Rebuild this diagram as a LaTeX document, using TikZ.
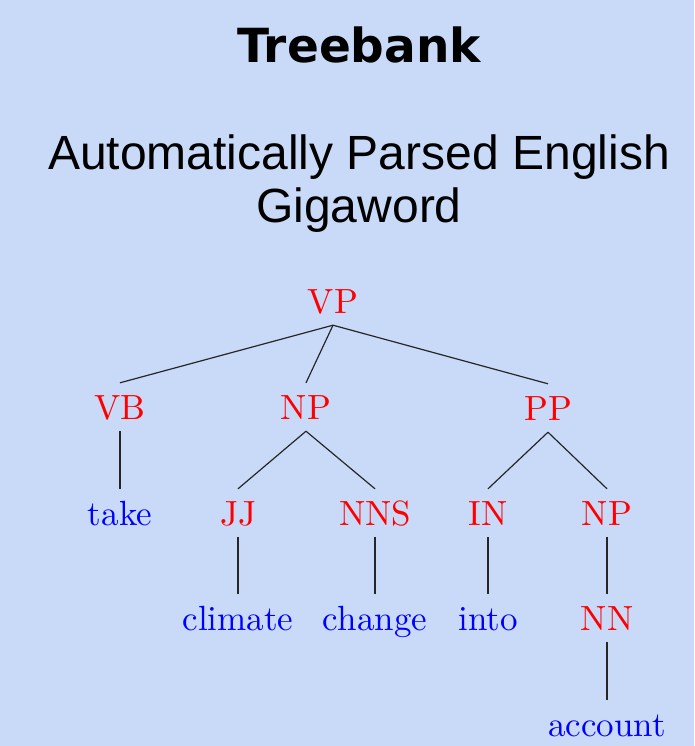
\documentclass[tikz,border=0pt]{standalone}
\usepackage{fontspec}
\newfontfamily\arial{Liberation Sans}
\newfontfamily\titlefont{DejaVu Sans}
\newfontfamily\treefont{lmroman10-regular}[Extension=.otf]
\definecolor{bgblue}{HTML}{C9DAF8}
\definecolor{catred}{HTML}{FF0000}
\definecolor{wordblue}{HTML}{0000FF}
\begin{document}
\begin{tikzpicture}[x=1pt,y=-1pt,
  lab/.style={anchor=base,inner xsep=2pt,inner ysep=12pt,text height=24pt,text depth=0pt,font=\treefont\fontsize{35}{35}\selectfont},
  cat/.style={lab,text=catred},
  word/.style={lab,text=wordblue},
  edge/.style={draw=black!85,line width=1.2pt}]
\fill[bgblue] (0,0) rectangle (694,746);
\useasboundingbox (0,0) rectangle (694,746);
\node[anchor=base,inner sep=0pt,font=\titlefont\bfseries\fontsize{47}{47}\selectfont] (title) at (359,63) {Treebank};
\node[anchor=base,inner sep=0pt,font=\arial\fontsize{48}{48}\selectfont] (sub1) at (359,170) {Automatically Parsed English};
\node[anchor=base,inner sep=0pt,font=\arial\fontsize{48}{48}\selectfont] (sub2) at (359,222) {Gigaword};
% tree
\node[cat] (vp) at (333,313) {VP};
\node[cat] (vb) at (120,419) {VB};
\node[cat] (np) at (306,419) {NP};
\node[cat] (pp) at (548,420) {PP};
\node[word] (take) at (120,525) {take};
\node[cat] (jj) at (238,525) {JJ};
\node[cat] (nns) at (375,525) {NNS};
\node[cat] (in) at (488,525) {IN};
\node[cat] (np2) at (607,525) {NP};
\node[word] (climate) at (238,630) {climate};
\node[word] (change) at (375,630) {change};
\node[word] (into) at (488,630) {into};
\node[cat] (nn) at (607,630) {NN};
\node[word] (account) at (607,736) {account};
\draw[edge] (vp.south) -- (vb.north);
\draw[edge] (vp.south) -- (np.north);
\draw[edge] (vp.south) -- (pp.north);
\draw[edge] (vb.south) -- (take.north);
\draw[edge] (np.south) -- (jj.north);
\draw[edge] (np.south) -- (nns.north);
\draw[edge] (pp.south) -- (in.north);
\draw[edge] (pp.south) -- (np2.north);
\draw[edge] (jj.south) -- (climate.north);
\draw[edge] (nns.south) -- (change.north);
\draw[edge] (in.south) -- (into.north);
\draw[edge] (np2.south) -- (nn.north);
\draw[edge] (nn.south) -- (account.north);
\end{tikzpicture}
\end{document}
